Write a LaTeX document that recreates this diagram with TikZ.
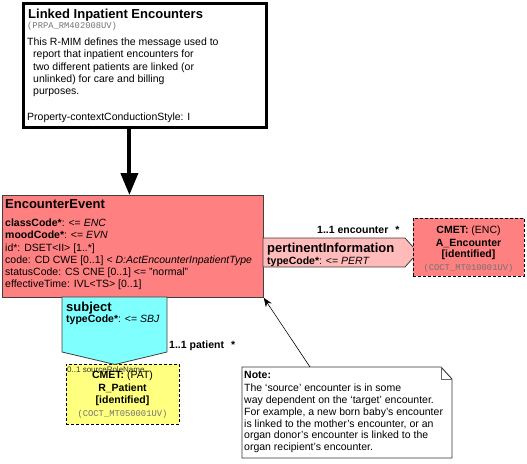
\documentclass[tikz,border=0pt]{standalone}
\usepackage{fontspec}
\setmainfont{Liberation Sans}
\setmonofont{Liberation Mono}
\usetikzlibrary{arrows.meta,calc}

\definecolor{actred}{RGB}{255,128,128}
\definecolor{partpink}{RGB}{255,186,186}
\definecolor{partcyan}{RGB}{128,255,255}
\definecolor{cmetyellow}{RGB}{255,255,128}

\begin{document}
\begin{tikzpicture}[x=1pt,y=-1pt,
	box/.style={draw=black!75,line width=.8pt,inner sep=0pt,anchor=north west},
	cmet/.style={box,draw=black,dashed,dash pattern=on 3pt off 2pt},
	txt/.style={anchor=base west,inner sep=0pt,font=\fontsize{10.5}{12.2}\selectfont},
	hd/.style={txt,font=\fontsize{13}{15}\selectfont\bfseries},
	lbl/.style={txt,font=\fontsize{10.5}{12}\selectfont\bfseries},
	mid/.style={txt,anchor=base},
	code/.style={inner sep=0pt,anchor=base,font=\fontsize{8.8}{10}\selectfont\ttfamily,text=black!55}]
	\useasboundingbox (0,0) rectangle (527,463);

	% model header
	\node[box,draw=black,line width=2.5pt,fill=white,minimum width=243pt,minimum height=124pt] (rmim) at (22,2) {};
	\node[hd] (rmimname) at (28,18) {Linked Inpatient Encounters};
	\node[code,anchor=base west] (rmimid) at (27,28) {(PRPA\_RM402008UV)};
	\node[txt] (rmimline0) at (27,45.6) {This R-MIM defines the message used to};
	\foreach \l [count=\i] in {{report that inpatient encounters for},{two different patients are linked (or},{unlinked) for care and billing},{purposes.}}
		\node[txt] (rmimline\i) at (33,45.6+12.2*\i) {\l};
	\node[txt] (rmimstyle) at (27,120.6) {Property-contextConductionStyle: I};

	% entry class
	\node[box,fill=actred,minimum width=261pt,minimum height=102pt] (ee) at (2,195) {};
	\draw[line width=4pt,-{Triangle[width=17pt,length=22pt]}] ($(ee.north |- rmim.south)+(-3.5,0)$) -- ($(ee.north)+(-3.5,0)$);
	\node[hd] (eename) at (5,208.7) {EncounterEvent};
	\foreach \a [count=\i from 0] in {{\textbf{classCode*}: <= \textit{ENC}},{\textbf{moodCode*}: <= \textit{EVN}},{id*: DSET<II> [1..*]},{code: CD CWE [0..1] < \textit{D:ActEncounterInpatientType}},{statusCode: CS CNE [0..1] <= "normal"},{effectiveTime: IVL<TS> [0..1]}}
		\node[txt] (eeattr\i) at (5,226.6+12.2*\i) {\a};

	% pertinentInformation
	\draw[fill=partpink,draw=black!75,line width=.8pt] (263,238) -- (405,238) -- (418,252.5) -- (405,267) -- (263,267) -- cycle;
	\node[hd] (pinfoname) at (267,252.7) {pertinentInformation};
	\node[txt] (pinfotype) at (267,264.6) {\textbf{typeCode*}: <= \textit{PERT}};
	\node[lbl] (encrole) at (317,233.5) {1..1 encounter\hspace{7pt}*};

	\node[cmet,fill=actred,minimum width=111pt,minimum height=58pt] (enc) at (413,218) {};
	\node[mid] (enccmet) at (468.5,233) {\textbf{CMET:} (ENC)};
	\node[mid,font=\fontsize{10.5}{12}\selectfont\bfseries] (encname) at (468.5,246) {A\_Encounter};
	\node[mid,font=\fontsize{10.5}{12}\selectfont\bfseries] (encflav) at (468.5,257) {[identified]};
	\node[code] (encid) at (468.5,270.5) {(COCT\_MT010001UV)};

	% subject
	\node[cmet,fill=cmetyellow,minimum width=113pt,minimum height=60pt] (pat) at (66,364) {};
	\draw[fill=partcyan,draw=black!75,line width=.8pt] (62,297) -- (167,297) -- (167,352) -- (115,364.5) -- (62,352) -- cycle;
	\node[hd] (subjname) at (66,311.5) {subject};
	\node[txt] (subjtype) at (66,322.6) {\textbf{typeCode*}: <= \textit{SBJ}};
	\node[lbl] (patrole) at (169,348.5) {1..1 patient\hspace{7pt}*};

	\node[txt,font=\fontsize{8}{9}\selectfont,text=black!80] (patsrc) at (67,372.8) {0..1 sourceRoleName};
	\node[mid] (patcmet) at (122.5,378.7) {\textbf{CMET:} (PAT)};
	\node[mid,font=\fontsize{10.5}{12}\selectfont\bfseries] (patname) at (122.5,391.7) {R\_Patient};
	\node[mid,font=\fontsize{10.5}{12}\selectfont\bfseries] (patflav) at (122.5,403.7) {[identified]};
	\node[code] (patid) at (122.5,416) {(COCT\_MT050001UV)};

	% note
	\draw[draw=black!80,line width=.9pt,fill=white] (242,367) -- (441,367) -- (452,379) -- (452,458) -- (242,458) -- cycle;
	\draw[draw=black!60,line width=.9pt] (441,367) -- (441,379) -- (452,379);
	\node[lbl] (notehd) at (244,378.6) {Note:};
	\foreach \l [count=\i from 0] in {{The `source' encounter is in some},{way dependent on the `target' encounter.},{For example, a new born baby's encounter},{is linked to the mother's encounter, or an},{organ donor's encounter is linked to the},{organ recipient's encounter.}}
		\node[txt] (noteline\i) at (244,391.6+11.8*\i) {\l};
	\coordinate (notetop) at (310,367);
	\draw[line width=.6pt,-{Stealth[length=9pt,width=7pt]}] (notetop) -- (ee.south east);
\end{tikzpicture}
\end{document}
